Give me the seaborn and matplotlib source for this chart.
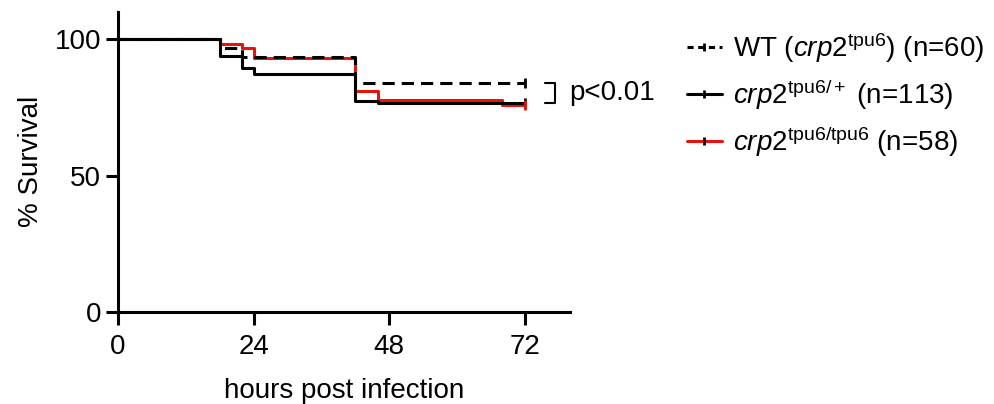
import matplotlib
matplotlib.use("Agg")
import matplotlib.pyplot as plt
from matplotlib.lines import Line2D
import seaborn as sns
import pandas as pd

# Data (Kaplan-Meier steps, % survival at event times)
wt_hours = [0, 18, 22, 42, 72]
wt_surv = [100, 96.7, 93.3, 83.7, 83.7]
het_hours = [0, 18, 22, 24, 42, 46, 72]
het_surv = [100, 93.8, 89.4, 87.2, 77.4, 76.5, 76.5]
hom_hours = [0, 18, 22, 24, 42, 46, 68, 72]
hom_surv = [100, 98.3, 96.6, 93.1, 81.0, 77.6, 75.9, 75.9]

labels = [r'WT ($\it{crp2}^{\rm tpu6}$) (n=60)',
          r'$\it{crp2}^{\rm tpu6/+}$ (n=113)',
          r'$\it{crp2}^{\rm tpu6/tpu6}$ (n=58)']
x_ticks = [0, 24, 48, 72]
y_ticks = [0, 50, 100]

sns.set_theme(style="ticks")
plt.rcParams['font.family'] = ['Liberation Sans', 'DejaVu Sans']
plt.rcParams['mathtext.fontset'] = 'custom'
plt.rcParams['mathtext.rm'] = 'Liberation Sans'
plt.rcParams['mathtext.it'] = 'Liberation Sans:italic'
plt.rcParams['text.color'] = 'black'
plt.rcParams['axes.labelcolor'] = 'black'

FS = 20
fig = plt.figure(figsize=(9.94, 4.04), dpi=100)
ax = fig.add_axes([118/994, (404-312)/404, (570-118)/994, (312-11.7)/404])

lw = 2.2
df_hom = pd.DataFrame({'h': hom_hours, 's': hom_surv})
df_het = pd.DataFrame({'h': het_hours, 's': het_surv})
df_wt = pd.DataFrame({'h': wt_hours, 's': wt_surv})

sns.lineplot(data=df_hom, x='h', y='s', ax=ax, color='#e8140c', lw=lw,
             drawstyle='steps-post', estimator=None, solid_capstyle='butt')
sns.lineplot(data=df_het, x='h', y='s', ax=ax, color='black', lw=lw,
             drawstyle='steps-post', estimator=None, solid_capstyle='butt')
sns.lineplot(data=df_wt, x='h', y='s', ax=ax, color='black', lw=lw,
             drawstyle='steps-post', estimator=None)
ax.lines[-1].set_dashes((4, 2.3))

# censor ticks at end
for h, s, c in [(wt_hours[-1], wt_surv[-1], 'black'),
                (het_hours[-1], het_surv[-1], 'black'),
                (hom_hours[-1], hom_surv[-1], '#e8140c')]:
    ax.plot([h], [s], marker='|', color=c, markersize=7, mew=2)

ax.set_xlim(0, 80)
ax.set_ylim(0, 110)
ax.set_xticks(x_ticks)
ax.set_yticks(y_ticks)
ax.tick_params(labelsize=FS, width=2.2, length=9, pad=3, color='black', labelcolor='black')
ax.tick_params(axis='x', pad=7)
for sp in ['left', 'bottom']:
    ax.spines[sp].set_linewidth(2.2)
    ax.spines[sp].set_color('black')
sns.despine(ax=ax)
ax.set_xlabel('hours post infection', fontsize=FS, labelpad=13, color='black')
ax.set_ylabel('% Survival', fontsize=FS, labelpad=8, color='black')

# p-value bracket
ax.plot([75.5, 77.3, 77.3, 75.5], [wt_surv[-1], wt_surv[-1], het_surv[-1], het_surv[-1]],
        color='black', lw=1.5, clip_on=False)
ax.text(79.8, (wt_surv[-1] + het_surv[-1]) / 2, 'p<0.01', fontsize=FS,
        va='center', ha='left', color='black', clip_on=False)

handles = [
    Line2D([], [], color='black', lw=lw, dashes=(2, 1.5), marker='|', markersize=6, mew=2),
    Line2D([], [], color='black', lw=lw, marker='|', markersize=6, mew=2),
    Line2D([], [], color='#e8140c', lw=lw, marker='|', markersize=6, mew=2, mec='black'),
]
fig.legend(handles, labels, loc='upper left', bbox_to_anchor=(676/994, 1 - 20/404),
           frameon=False, fontsize=FS, handlelength=1.25, handletextpad=0.4,
           labelspacing=0.45, numpoints=1, borderaxespad=0)

fig.savefig('out.png', dpi=100)
